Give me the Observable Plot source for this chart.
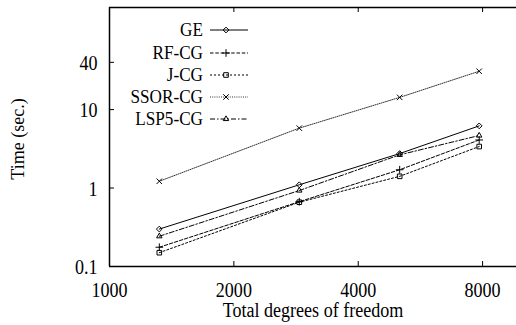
<!DOCTYPE html>
<html><head><meta charset="utf-8">
<script src="https://cdn.jsdelivr.net/npm/d3@7"></script>
<script src="https://cdn.jsdelivr.net/npm/@observablehq/plot@0.6"></script>
<style>
body{margin:0;background:#fff;}
#chart svg{background:#fff;}
</style></head>
<body><div id="chart"></div>
<script>
const dof = [1320, 2880, 5040, 7850];
const seriesNames = ["GE", "RF-CG", "J-CG", "SSOR-CG", "LSP5-CG"];
const GE = [0.30, 1.10, 2.75, 6.2];
const RF_CG = [0.176, 0.67, 1.71, 4.1];
const J_CG = [0.150, 0.66, 1.41, 3.38];
const SSOR_CG = [1.22, 5.8, 14.3, 30.8];
const LSP5_CG = [0.243, 0.93, 2.65, 4.67];
const xTicks = [1000, 2000, 4000, 8000];
const yTicks = [0.1, 1, 10, 40];
const xDomain = [1000, 9665];
const yDomain = [0.1, 200];
const xTitle = "Total degrees of freedom";
const yTitle = "Time (sec.)";

const values = [GE, RF_CG, J_CG, SSOR_CG, LSP5_CG];
const styles = [
  {dash: null, symbol: "diamond2", d3sym: d3.symbolDiamond2, stroke: "#000"},
  {dash: "3.5,1.8", symbol: "plus", d3sym: d3.symbolPlus, stroke: "#000"},
  {dash: "2,2", symbol: "square", d3sym: d3.symbolSquare, stroke: "#000"},
  {dash: "1,1.2", symbol: "times", d3sym: d3.symbolTimes, stroke: "#333"},
  {dash: "5,2,1.5,2", symbol: "triangle2", d3sym: d3.symbolTriangle2, stroke: "#000"}
];
const rows = seriesNames.flatMap((s, i) => dof.map((x, j) => ({series: s, x, y: values[i][j]})));

const FONT = "Liberation Serif, Times New Roman, serif";
const W = 516, H = 325, mL = 109, mT = 7, mB = 59, mR = 0;
const plotW = W - mL - mR, plotH = H - mT - mB;

const marks = [];
seriesNames.forEach((s, i) => {
  const data = rows.filter(d => d.series === s);
  marks.push(Plot.line(data, {x: "x", y: "y", stroke: styles[i].stroke, strokeWidth: 1, strokeDasharray: styles[i].dash}));
  marks.push(Plot.dot(data, {x: "x", y: "y", symbol: styles[i].symbol, r: 2.6, stroke: "#000", fill: "none", strokeWidth: 1}));
});

const chart = Plot.plot({
  width: W, height: H,
  marginLeft: mL, marginTop: mT, marginBottom: mB, marginRight: mR,
  style: {background: "#fff", color: "#000", fontFamily: FONT},
  x: {type: "log", domain: xDomain, axis: null},
  y: {type: "log", domain: yDomain, axis: null},
  marks: [
    Plot.tickX(xTicks.slice(1), {x: d => d, insetTop: plotH - 5, stroke: "#000"}),
    Plot.tickX(xTicks.slice(1), {x: d => d, insetBottom: plotH - 5, stroke: "#000"}),
    Plot.tickY(yTicks.slice(1), {y: d => d, insetRight: plotW - 5, stroke: "#000"}),
    Plot.text(xTicks, {x: d => d, frameAnchor: "bottom", dy: 30, fontSize: 20.5, text: d => String(d), fill: "#000"}),
    Plot.text(yTicks, {y: d => d, frameAnchor: "left", dx: -12, dy: 1, textAnchor: "end", fontSize: 20.5, text: d => String(d), fill: "#000"}),
    ...marks,
    Plot.ruleX([xDomain[0]], {stroke: "#000", strokeWidth: 1.5}),
    Plot.ruleY([yDomain[0]], {stroke: "#000", strokeWidth: 1.5}),
    Plot.ruleY([yDomain[1]], {stroke: "#000", strokeWidth: 1.5}),
    Plot.text([xTitle], {frameAnchor: "bottom", dy: 50, fontSize: 20.5, text: d => d, fill: "#000"}),
    Plot.text([yTitle], {frameAnchor: "left", textAnchor: "middle", dx: -91, dy: 2, rotate: -90, fontSize: 18, text: d => d, fill: "#000"})
  ]
});

// legend overlay
const svg = d3.select(chart);
const lg = svg.append("g");
const legendY = [30, 53, 75, 97, 119];
seriesNames.forEach((s, i) => {
  const y = legendY[i];
  lg.append("text").attr("x", 203).attr("y", y).attr("text-anchor", "end").attr("dy", "0.32em")
    .attr("font-size", 19.5).attr("font-family", FONT).attr("fill", "#000").text(s);
  lg.append("line").attr("x1", 210).attr("x2", 248).attr("y1", y).attr("y2", y)
    .attr("stroke", styles[i].stroke).attr("stroke-width", 1)
    .attr("stroke-dasharray", styles[i].dash);
  lg.append("path").attr("transform", `translate(226,${y})`)
    .attr("d", d3.symbol(styles[i].d3sym, Math.PI * 2.6 * 2.6)())
    .attr("fill", "none").attr("stroke", "#000").attr("stroke-width", 1);
});

document.getElementById("chart").appendChild(chart);
// the reference's type is slightly narrower than it is tall (skip the rotated title)
chart.querySelectorAll("text").forEach(t => {
  if ((t.getAttribute("transform") || "").includes("rotate")) return;
  const len = t.getComputedTextLength();
  if (len > 0) {
    t.setAttribute("textLength", (len * 0.88).toFixed(2));
    t.setAttribute("lengthAdjust", "spacingAndGlyphs");
  }
});
</script></body></html>
